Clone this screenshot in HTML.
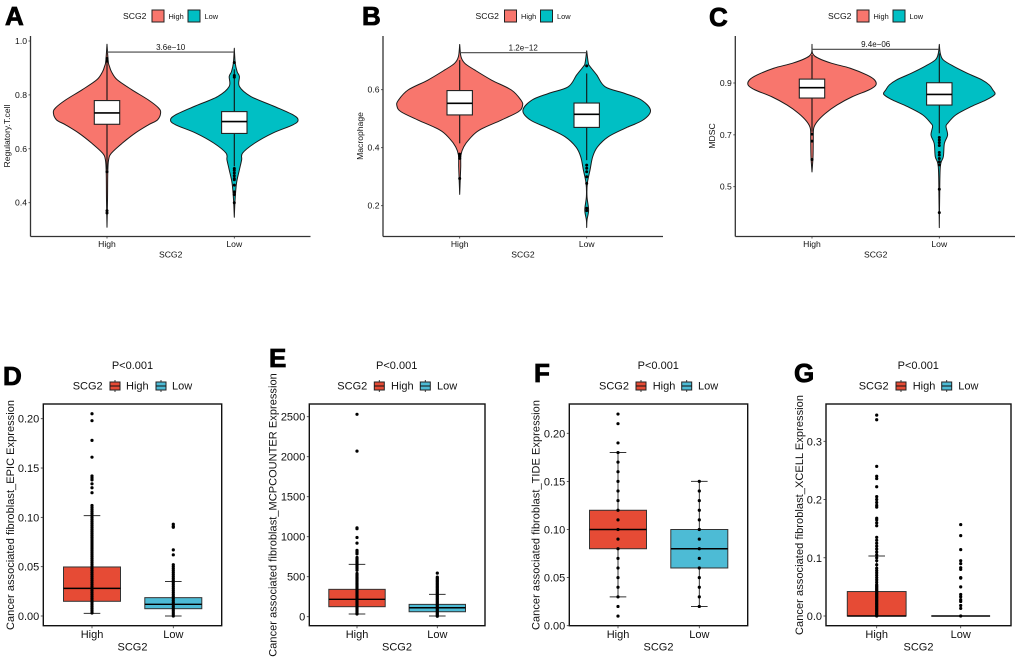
<!DOCTYPE html>
<html lang="en">
<head>
<meta charset="utf-8">
<title>SCG2 High vs Low immune infiltration panels</title>
<style>
html,body{margin:0;padding:0;background:#fff;width:1020px;height:661px;overflow:hidden}
svg{display:block;filter:blur(0.3px)}
text{font-family:"Liberation Sans",Arial,sans-serif;fill:#111}
.letter{font-size:26px;font-weight:bold;fill:#000;stroke:#000;stroke-width:.8px}
.s8{font-size:8.6px}
.leg{font-size:7.4px}
.s11{font-size:11px}
.key{stroke:#222;stroke-width:1}
</style>
</head>
<body>
<svg id="figure" width="1020" height="661" viewBox="0 0 1020 661" xmlns="http://www.w3.org/2000/svg">
<rect width="1020" height="661" fill="#fff"/>

<g>
<text class="letter" x="5" y="25">A</text>
<text class="letter" x="362" y="25">B</text>
<text class="letter" x="709" y="26">C</text>
<text class="letter" x="3" y="385">D</text>
<text class="letter" x="269" y="367">E</text>
<text class="letter" x="534" y="382">F</text>
<text class="letter" x="794" y="382">G</text>
</g>

<!-- Panel A static text and legend -->
<g>
<text class="s8" x="123" y="19">SCG2</text>
<rect class="key" x="152" y="10" width="12" height="12" fill="#F8766D"/>
<text class="leg" x="168.500" y="19">High</text>
<rect class="key" x="188" y="10" width="12" height="12" fill="#00BFC4"/>
<text class="leg" x="204.500" y="19">Low</text>
</g>
<text class="s8" transform="translate(10,136) rotate(-90)" text-anchor="middle">Regulatory.T.cell</text>
<text class="s8" x="170.700" y="257.500" text-anchor="middle">SCG2</text>

<!-- Panel B static text and legend -->
<g>
<text class="s8" x="475.500" y="19">SCG2</text>
<rect class="key" x="504.500" y="10" width="12" height="12" fill="#F8766D"/>
<text class="leg" x="521" y="19">High</text>
<rect class="key" x="540.500" y="10" width="12" height="12" fill="#00BFC4"/>
<text class="leg" x="557" y="19">Low</text>
</g>
<text class="s8" transform="translate(363,136) rotate(-90)" text-anchor="middle">Macrophage</text>
<text class="s8" x="523" y="257.500" text-anchor="middle">SCG2</text>

<!-- Panel C static text and legend -->
<g>
<text class="s8" x="828" y="19">SCG2</text>
<rect class="key" x="857" y="10" width="12" height="12" fill="#F8766D"/>
<text class="leg" x="873.500" y="19">High</text>
<rect class="key" x="893" y="10" width="12" height="12" fill="#00BFC4"/>
<text class="leg" x="909.500" y="19">Low</text>
</g>
<text class="s8" transform="translate(715,136) rotate(-90)" text-anchor="middle">MDSC</text>
<text class="s8" x="875.700" y="257.500" text-anchor="middle">SCG2</text>

<!-- Panel D static text and legend -->
<text class="s11" x="132.500" y="369" text-anchor="middle">P&lt;0.001</text>
<text class="s11" x="72.700" y="389.500">SCG2</text>
<text class="s11" x="126" y="389.500">High</text>
<text class="s11" x="172" y="389.500">Low</text>
<text class="s11" transform="translate(14,515) rotate(-90)" text-anchor="middle" textLength="230">Cancer associated fibroblast_EPIC Expression</text>
<text class="s11" x="132.500" y="650.700" text-anchor="middle">SCG2</text>

<!-- Panel E static text and legend -->
<text class="s11" x="396.700" y="369" text-anchor="middle">P&lt;0.001</text>
<text class="s11" x="337.300" y="389.500">SCG2</text>
<text class="s11" x="391" y="389.500">High</text>
<text class="s11" x="437" y="389.500">Low</text>
<text class="s11" transform="translate(276.500,515) rotate(-90)" text-anchor="middle" textLength="283.500">Cancer associated fibroblast_MCPCOUNTER Expression</text>
<text class="s11" x="397" y="650.700" text-anchor="middle">SCG2</text>

<!-- Panel F static text and legend -->
<text class="s11" x="658.300" y="369" text-anchor="middle">P&lt;0.001</text>
<text class="s11" x="599" y="389.500">SCG2</text>
<text class="s11" x="652.700" y="389.500">High</text>
<text class="s11" x="698" y="389.500">Low</text>
<text class="s11" transform="translate(539.500,515) rotate(-90)" text-anchor="middle" textLength="230">Cancer associated fibroblast_TIDE Expression</text>
<text class="s11" x="658.500" y="650.700" text-anchor="middle">SCG2</text>

<!-- Panel G static text and legend -->
<text class="s11" x="918.300" y="369" text-anchor="middle">P&lt;0.001</text>
<text class="s11" x="858.700" y="389.500">SCG2</text>
<text class="s11" x="912.700" y="389.500">High</text>
<text class="s11" x="958.300" y="389.500">Low</text>
<text class="s11" transform="translate(802.800,515) rotate(-90)" text-anchor="middle" textLength="240">Cancer associated fibroblast_XCELL Expression</text>
<text class="s11" x="918.500" y="650.700" text-anchor="middle">SCG2</text>
</svg>

<script>
/* ---------- shared ---------- */
const categories = ['High', 'Low'];

/* ---------- panel A : Regulatory.T.cell ---------- */
const aTickValues = [0.4, 0.6, 0.8, 1.0];
const aTickLabels = ['0.4', '0.6', '0.8', '1.0'];
const aHighLevels = [0.988, 0.923, 0.905, 0.886, 0.856, 0.819, 0.781, 0.751, 0.732, 0.707, 0.689, 0.658, 0.621, 0.584, 0.559, 0.510, 0.411, 0.309];
const aHighDensity = [0, 0.02, 0.04, 0.07, 0.16, 0.39, 0.65, 0.81, 0.84, 0.79, 0.65, 0.44, 0.24, 0.07, 0.025, 0.012, 0.008, 0];
const aLowLevels = [0.973, 0.917, 0.886, 0.868, 0.831, 0.794, 0.757, 0.726, 0.707, 0.689, 0.658, 0.621, 0.584, 0.559, 0.522, 0.473, 0.411, 0.346];
const aLowDensity = [0, 0.015, 0.045, 0.08, 0.08, 0.26, 0.63, 0.92, 1, 0.92, 0.60, 0.32, 0.13, 0.115, 0.08, 0.035, 0.012, 0];
const aHighBox = [0.691, 0.733, 0.779];
const aLowBox = [0.657, 0.701, 0.738];
const aHighWhiskers = [0.522, 0.932];
const aLowWhiskers = [0.535, 0.895];
const aHighOutliers = [0.935, 0.925, 0.515, 0.37, 0.362];
const aLowOutliers = [0.92, 0.872, 0.866, 0.527, 0.52, 0.51, 0.50, 0.49, 0.485, 0.465, 0.44, 0.43, 0.40];
const aBracketLevel = [0.959];
const aPValue = ['3.6e\u221210'];

/* ---------- panel B : Macrophage ---------- */
const bTickValues = [0.2, 0.4, 0.6];
const bTickLabels = ['0.2', '0.4', '0.6'];
const bHighLevels = [0.756, 0.714, 0.691, 0.668, 0.633, 0.599, 0.564, 0.545, 0.524, 0.495, 0.461, 0.432, 0.403, 0.375, 0.334, 0.300, 0.239];
const bHighDensity = [0, 0.02, 0.08, 0.235, 0.50, 0.81, 0.96, 0.985, 0.92, 0.65, 0.31, 0.16, 0.063, 0.02, 0.016, 0.01, 0];
const bLowLevels = [0.734, 0.691, 0.68, 0.651, 0.610, 0.587, 0.564, 0.528, 0.495, 0.467, 0.438, 0.403, 0.369, 0.323, 0.277, 0.231, 0.185, 0.151, 0.125];
const bLowDensity = [0, 0.026, 0.052, 0.157, 0.29, 0.60, 0.86, 1, 0.88, 0.60, 0.34, 0.17, 0.094, 0.052, 0.01, 0.005, 0.03, 0.005, 0];
const bHighBox = [0.513, 0.553, 0.597];
const bLowBox = [0.470, 0.515, 0.554];
const bHighWhiskers = [0.415, 0.702];
const bLowWhiskers = [0.357, 0.656];
const bHighOutliers = [0.378, 0.371, 0.363, 0.294];
const bLowOutliers = [0.682, 0.340, 0.329, 0.317, 0.300, 0.277, 0.191, 0.183];
const bBracketLevel = [0.7276];
const bPValue = ['1.2e\u221212'];

/* ---------- panel C : MDSC ---------- */
const cTickValues = [0.5, 0.7, 0.9];
const cTickLabels = ['0.5', '0.7', '0.9'];
const cHighLevels = [1.049, 1.014, 0.995, 0.976, 0.957, 0.931, 0.912, 0.892, 0.873, 0.847, 0.815, 0.783, 0.751, 0.725, 0.680, 0.616, 0.557];
const cHighDensity = [0, 0.01, 0.105, 0.31, 0.60, 0.86, 0.98, 1, 0.89, 0.63, 0.39, 0.21, 0.08, 0.026, 0.02, 0.016, 0];
const cLowLevels = [1.049, 1.014, 0.989, 0.963, 0.937, 0.912, 0.892, 0.873, 0.856, 0.834, 0.809, 0.777, 0.744, 0.732, 0.699, 0.667, 0.616, 0.577, 0.449, 0.342];
const cLowDensity = [0, 0.016, 0.063, 0.235, 0.445, 0.67, 0.785, 0.84, 0.87, 0.73, 0.50, 0.26, 0.13, 0.105, 0.13, 0.08, 0.063, 0.016, 0.005, 0];
const cHighBox = [0.842, 0.882, 0.915];
const cLowBox = [0.815, 0.856, 0.901];
const cHighWhiskers = [0.712, 1.008];
const cLowWhiskers = [0.706, 1.014];
const cHighOutliers = [0.703, 0.676, 0.605];
const cLowOutliers = [0.690, 0.680, 0.670, 0.659, 0.632, 0.622, 0.609, 0.596, 0.584, 0.49, 0.40];
const cBracketLevel = [1.03];
const cPValue = ['9.4e\u221206'];

/* ---------- panel D : EPIC ---------- */
const dTickValues = [0, 0.05, 0.10, 0.15, 0.20];
const dTickLabels = ['0.00', '0.05', '0.10', '0.15', '0.20'];
const dHighBox = [0.0149, 0.028, 0.0497];
const dLowBox = [0.0074, 0.0118, 0.0186];
const dHighWhiskers = [0.0027, 0.1017];
const dLowWhiskers = [0, 0.035];
const dHighPoints = [0.205, 0.198, 0.178, 0.161, 0.142, 0.14, 0.138, 0.134, 0.13, 0.125, 0.112, 0.11, 0.108, 0.106, 0.104, 0.102, 0.1, 0.098, 0.096, 0.094, 0.092, 0.09, 0.088, 0.086, 0.084, 0.082, 0.08, 0.078, 0.076, 0.074, 0.072, 0.07, 0.068, 0.066, 0.064, 0.062, 0.06, 0.058, 0.056, 0.054, 0.052, 0.05, 0.048, 0.046, 0.044, 0.042, 0.04, 0.038, 0.036, 0.034, 0.032, 0.03, 0.028, 0.026, 0.024, 0.022, 0.02, 0.018, 0.016, 0.014, 0.012, 0.01, 0.008, 0.006, 0.004, 0.003];
const dLowPoints = [0.093, 0.091, 0.09, 0.067, 0.062, 0.052, 0.05, 0.048, 0.046, 0.044, 0.042, 0.04, 0.038, 0.036, 0.034, 0.032, 0.03, 0.028, 0.026, 0.024, 0.022, 0.02, 0.018, 0.016, 0.014, 0.012, 0.01, 0.008, 0.006, 0.004, 0.002, 0];

/* ---------- panel E : MCPCOUNTER ---------- */
const eTickValues = [0, 500, 1000, 1500, 2000, 2500];
const eTickLabels = ['0', '500', '1000', '1500', '2000', '2500'];
const eHighBox = [125, 217, 342];
const eLowBox = [62, 112, 154];
const eHighWhiskers = [33, 654];
const eLowWhiskers = [8, 279];
const eHighPoints = [2530, 2070, 1110, 1100, 990, 920, 830, 815, 800, 785, 740, 725, 710, 695, 680, 665, 650, 635, 620, 600, 580, 540, 525, 510, 495, 480, 465, 450, 435, 420, 405, 390, 375, 360, 345, 330, 315, 300, 285, 270, 255, 240, 225, 210, 195, 180, 165, 150, 135, 120, 105, 90, 75, 60, 45, 33];
const eLowPoints = [545, 495, 480, 465, 450, 435, 420, 405, 390, 375, 360, 345, 330, 315, 300, 285, 270, 255, 240, 225, 210, 195, 180, 165, 150, 135, 120, 105, 90, 75, 60, 45, 30, 15, 5];

/* ---------- panel F : TIDE ---------- */
const fTickValues = [0, 0.05, 0.10, 0.15, 0.20];
const fTickLabels = ['0.00', '0.05', '0.10', '0.15', '0.20'];
const fHighBox = [0.08, 0.10, 0.12];
const fLowBox = [0.06, 0.08, 0.10];
const fHighWhiskers = [0.03, 0.18];
const fLowWhiskers = [0.02, 0.15];
const fHighPoints = [0.22, 0.21, 0.19, 0.18, 0.17, 0.16, 0.15, 0.14, 0.13, 0.12, 0.11, 0.10, 0.09, 0.08, 0.07, 0.06, 0.05, 0.04, 0.03, 0.02, 0.01];
const fLowPoints = [0.15, 0.14, 0.13, 0.12, 0.11, 0.10, 0.09, 0.08, 0.07, 0.06, 0.05, 0.04, 0.03, 0.02];

/* ---------- panel G : XCELL ---------- */
const gTickValues = [0, 0.1, 0.2, 0.3];
const gTickLabels = ['0.0', '0.1', '0.2', '0.3'];
const gHighBox = [0, 0, 0.042];
const gLowBox = [0, 0, 0];
const gHighWhiskers = [0, 0.103];
const gLowWhiskers = [0, 0];
const gHighPoints = [0.345, 0.337, 0.257, 0.24, 0.236, 0.222, 0.205, 0.2, 0.195, 0.19, 0.187, 0.168, 0.165, 0.16, 0.155, 0.135, 0.13, 0.125, 0.12, 0.115, 0.11, 0.105, 0.1, 0.095, 0.088, 0.082, 0.078, 0.074, 0.07, 0.066, 0.062, 0.058, 0.054, 0.052, 0.05, 0.048, 0.046, 0.044, 0.042, 0.04, 0.038, 0.036, 0.034, 0.032, 0.03, 0.028, 0.026, 0.024, 0.022, 0.02, 0.018, 0.016, 0.014, 0.012, 0.01, 0.008, 0.006, 0.004, 0.002, 0];
const gLowPoints = [0.157, 0.138, 0.114, 0.095, 0.09, 0.083, 0.08, 0.066, 0.065, 0.05, 0.037, 0.033, 0.028, 0.025, 0.018, 0.013, 0];

/* ---------- helpers ---------- */
const SVGNS = 'http://www.w3.org/2000/svg';
const figure = document.getElementById('figure');

function mk(parent, tag, attrs, name) {
  const el = document.createElementNS(SVGNS, tag);
  for (const k in attrs) el.setAttribute(k, attrs[k]);
  
  
  parent.appendChild(el);
  return el;
}
function label(parent, x, y, str, cls, anchor, name) {
  const t = mk(parent, 'text', {x: x, y: y, class: cls, 'text-anchor': anchor}, name);
  t.textContent = str;
  return t;
}
function linearScale(v0, p0, v1, p1) {
  return function (v) { return p0 + (v - v0) * (p1 - p0) / (v1 - v0); };
}
function splinePath(pts) {
  let d = 'M' + pts[0][0].toFixed(2) + ' ' + pts[0][1].toFixed(2);
  for (let i = 0; i < pts.length - 1; i++) {
    const p0 = pts[Math.max(i - 1, 0)], p1 = pts[i], p2 = pts[i + 1], p3 = pts[Math.min(i + 2, pts.length - 1)];
    const c1x = p1[0] + (p2[0] - p0[0]) / 6, c1y = p1[1] + (p2[1] - p0[1]) / 6;
    const c2x = p2[0] - (p3[0] - p1[0]) / 6, c2y = p2[1] - (p3[1] - p1[1]) / 6;
    d += 'C' + c1x.toFixed(2) + ' ' + c1y.toFixed(2) + ' ' + c2x.toFixed(2) + ' ' + c2y.toFixed(2) + ' ' + p2[0].toFixed(2) + ' ' + p2[1].toFixed(2);
  }
  return d;
}

/* ---------- violin panel ---------- */
function drawViolin(g, cx, y, groupName, fill, levels, density, box, whiskers, outliers) {
  const maxHalfWidth = 63.8;
  const boxHalf = 12.7;
  const right = levels.map(function (v, i) { return [cx + density[i] * maxHalfWidth, y(v)]; });
  const left = levels.map(function (v, i) { return [cx - density[i] * maxHalfWidth, y(v)]; }).reverse();
  mk(g, 'path', {d: splinePath(right) + ' ' + splinePath(left).replace(/^M[^C]*/, '') + 'Z', fill: fill, stroke: '#1a1a1a', 'stroke-width': 1, 'stroke-linejoin': 'round'}, 'violin-' + groupName);
  mk(g, 'line', {x1: cx, x2: cx, y1: y(whiskers[0]), y2: y(whiskers[1]), stroke: '#111', 'stroke-width': 1.1}, 'whisker-' + groupName);
  mk(g, 'rect', {x: cx - boxHalf, width: boxHalf * 2, y: y(box[2]), height: y(box[0]) - y(box[2]), fill: '#fff', stroke: '#222', 'stroke-width': 1.1}, 'box-' + groupName);
  mk(g, 'line', {x1: cx - boxHalf, x2: cx + boxHalf, y1: y(box[1]), y2: y(box[1]), stroke: '#000', 'stroke-width': 1.6}, 'median-' + groupName);
  outliers.forEach(function (v) {
    mk(g, 'circle', {cx: cx, cy: y(v), r: 1.5, fill: '#000'}, 'outlier-' + groupName);
  });
}
function drawViolinPanel(p) {
  const g = mk(figure, 'g', {}, 'violin-panel-' + p.id);
  const y = linearScale(p.v0, p.p0, p.v1, p.p1);
  const x = [p.xHigh, p.xLow];
  drawViolin(g, x[0], y, p.id + '-high', '#F8766D', p.highLevels, p.highDensity, p.highBox, p.highWhiskers, p.highOutliers);
  drawViolin(g, x[1], y, p.id + '-low', '#00BFC4', p.lowLevels, p.lowDensity, p.lowBox, p.lowWhiskers, p.lowOutliers);
  const by = y(p.bracket[0]);
  mk(g, 'line', {x1: x[0], x2: x[1], y1: by, y2: by, stroke: '#444', 'stroke-width': 1.1}, 'significance-bracket-' + p.id);
  label(g, (x[0] + x[1]) / 2, by - 2.2, p.pValue[0], 's8', 'middle', 'p-value-' + p.id).style.fontSize = '8px';
  mk(g, 'line', {x1: p.left, x2: p.left, y1: p.top, y2: p.bottom, stroke: '#333', 'stroke-width': 1.3}, 'y-axis-line-' + p.id);
  mk(g, 'line', {x1: p.left, x2: p.right, y1: p.bottom, y2: p.bottom, stroke: '#333', 'stroke-width': 1.3}, 'x-axis-line-' + p.id);
  p.tickValues.forEach(function (v, i) {
    mk(g, 'line', {x1: p.left - 2, x2: p.left, y1: y(v), y2: y(v), stroke: '#333', 'stroke-width': 0.8}, 'y-tick-' + p.id);
    label(g, p.left - 3.5, y(v) + 3, p.tickLabels[i], 's8', 'end', 'y-tick-label-' + p.id);
  });
  categories.forEach(function (c, i) {
    mk(g, 'line', {x1: x[i], x2: x[i], y1: p.bottom, y2: p.bottom + 2, stroke: '#333', 'stroke-width': 0.8}, 'x-tick-' + p.id);
    label(g, x[i], 247, c, 's8', 'middle', 'x-tick-label-' + p.id);
  });
}

/* ---------- box panel ---------- */
function drawBox(g, cx, y, groupName, fill, box, whiskers, points, halfWidth) {
  const capHalf = 8.3;
  mk(g, 'line', {x1: cx, x2: cx, y1: y(whiskers[0]), y2: y(whiskers[1]), stroke: '#222', 'stroke-width': 0.9}, 'whisker-' + groupName);
  mk(g, 'line', {x1: cx - capHalf, x2: cx + capHalf, y1: y(whiskers[1]), y2: y(whiskers[1]), stroke: '#333', 'stroke-width': 1}, 'whisker-cap-top-' + groupName);
  mk(g, 'line', {x1: cx - capHalf, x2: cx + capHalf, y1: y(whiskers[0]), y2: y(whiskers[0]), stroke: '#333', 'stroke-width': 1}, 'whisker-cap-bottom-' + groupName);
  mk(g, 'rect', {x: cx - halfWidth, width: halfWidth * 2, y: y(box[2]), height: Math.max(y(box[0]) - y(box[2]), 0), fill: fill, stroke: '#333', 'stroke-width': 1}, 'box-' + groupName);
  mk(g, 'line', {x1: cx - halfWidth, x2: cx + halfWidth, y1: y(box[1]), y2: y(box[1]), stroke: '#000', 'stroke-width': 1.4}, 'median-' + groupName);
  points.forEach(function (v) {
    mk(g, 'circle', {cx: cx, cy: y(v), r: 1.6, fill: '#000'}, 'point-' + groupName);
  });
}
function drawLegendKey(g, x, fill, name) {
  mk(g, 'line', {x1: x + 5, x2: x + 5, y1: 380, y2: 392, stroke: '#222', 'stroke-width': 0.9}, name + '-whisker');
  mk(g, 'rect', {x: x, y: 382, width: 10, height: 8, fill: fill, stroke: '#222', 'stroke-width': 1}, name);
  mk(g, 'line', {x1: x, x2: x + 10, y1: 386, y2: 386, stroke: '#111', 'stroke-width': 1}, name + '-median');
}
function drawBoxPanel(p) {
  const g = mk(figure, 'g', {}, 'box-panel-' + p.id);
  const y = linearScale(p.v0, p.p0, p.v1, p.p1);
  const x = [p.xHigh, p.xLow];
  drawLegendKey(g, p.key1, '#E64B35', 'legend-key-high-' + p.id);
  drawLegendKey(g, p.key2, '#4DBBD5', 'legend-key-low-' + p.id);
  mk(g, 'rect', {x: p.left, y: 404, width: p.right - p.left, height: 221.7, fill: 'none', stroke: '#111', 'stroke-width': 1.4}, 'plot-frame-' + p.id);
  drawBox(g, x[0], y, p.id + '-high', '#E64B35', p.highBox, p.highWhiskers, p.highPoints, p.boxHalf);
  drawBox(g, x[1], y, p.id + '-low', '#4DBBD5', p.lowBox, p.lowWhiskers, p.lowPoints, p.boxHalf);
  p.tickValues.forEach(function (v, i) {
    mk(g, 'line', {x1: p.left - 2.5, x2: p.left, y1: y(v), y2: y(v), stroke: '#333', 'stroke-width': 0.8}, 'y-tick-' + p.id);
    label(g, p.left - 4, y(v) + 4, p.tickLabels[i], 's11', 'end', 'y-tick-label-' + p.id);
  });
  categories.forEach(function (c, i) {
    mk(g, 'line', {x1: x[i], x2: x[i], y1: 625.7, y2: 628.2, stroke: '#333', 'stroke-width': 0.8}, 'x-tick-' + p.id);
    label(g, x[i], 638, c, 's11', 'middle', 'x-tick-label-' + p.id);
  });
}

/* ---------- draw ---------- */
drawViolinPanel({id: 'a', left: 30.5, right: 310.5, top: 36, bottom: 236.5, xHigh: 107, xLow: 234.3, v0: 1.0, p0: 41, v1: 0.4, p1: 202.7,
  tickValues: aTickValues, tickLabels: aTickLabels, highLevels: aHighLevels, highDensity: aHighDensity, lowLevels: aLowLevels, lowDensity: aLowDensity,
  highBox: aHighBox, lowBox: aLowBox, highWhiskers: aHighWhiskers, lowWhiskers: aLowWhiskers, highOutliers: aHighOutliers, lowOutliers: aLowOutliers, bracket: aBracketLevel, pValue: aPValue});
drawViolinPanel({id: 'b', left: 383, right: 663, top: 36, bottom: 236.5, xHigh: 459.7, xLow: 586.7, v0: 0.6, p0: 89.7, v1: 0.2, p1: 205.7,
  tickValues: bTickValues, tickLabels: bTickLabels, highLevels: bHighLevels, highDensity: bHighDensity, lowLevels: bLowLevels, lowDensity: bLowDensity,
  highBox: bHighBox, lowBox: bLowBox, highWhiskers: bHighWhiskers, lowWhiskers: bLowWhiskers, highOutliers: bHighOutliers, lowOutliers: bLowOutliers, bracket: bBracketLevel, pValue: bPValue});
drawViolinPanel({id: 'c', left: 735.3, right: 1015, top: 36, bottom: 236.5, xHigh: 812, xLow: 939.3, v0: 0.9, p0: 83, v1: 0.5, p1: 186.7,
  tickValues: cTickValues, tickLabels: cTickLabels, highLevels: cHighLevels, highDensity: cHighDensity, lowLevels: cLowLevels, lowDensity: cLowDensity,
  highBox: cHighBox, lowBox: cLowBox, highWhiskers: cHighWhiskers, lowWhiskers: cLowWhiskers, highOutliers: cHighOutliers, lowOutliers: cLowOutliers, bracket: cBracketLevel, pValue: cPValue});

drawBoxPanel({id: 'd', left: 43.3, right: 221.7, xHigh: 92, xLow: 173.3, boxHalf: 28.5, key1: 110, key2: 156, v0: 0, p0: 616, v1: 0.2, p1: 418.7,
  tickValues: dTickValues, tickLabels: dTickLabels, highBox: dHighBox, lowBox: dLowBox, highWhiskers: dHighWhiskers, lowWhiskers: dLowWhiskers, highPoints: dHighPoints, lowPoints: dLowPoints});
drawBoxPanel({id: 'e', left: 309.3, right: 485, xHigh: 357, xLow: 437.3, boxHalf: 28.2, key1: 374.3, key2: 420.3, v0: 0, p0: 616.7, v1: 2500, p1: 416.7,
  tickValues: eTickValues, tickLabels: eTickLabels, highBox: eHighBox, lowBox: eLowBox, highWhiskers: eHighWhiskers, lowWhiskers: eLowWhiskers, highPoints: eHighPoints, lowPoints: eLowPoints});
drawBoxPanel({id: 'f', left: 569.3, right: 747.7, xHigh: 618, xLow: 699.3, boxHalf: 28.5, key1: 636, key2: 681.7, v0: 0, p0: 625.7, v1: 0.2, p1: 433.3,
  tickValues: fTickValues, tickLabels: fTickLabels, highBox: fHighBox, lowBox: fLowBox, highWhiskers: fHighWhiskers, lowWhiskers: fLowWhiskers, highPoints: fHighPoints, lowPoints: fLowPoints});
drawBoxPanel({id: 'g', left: 826, right: 1011, xHigh: 876.7, xLow: 960.7, boxHalf: 29.4, key1: 896, key2: 941.7, v0: 0, p0: 616, v1: 0.3, p1: 441.3,
  tickValues: gTickValues, tickLabels: gTickLabels, highBox: gHighBox, lowBox: gLowBox, highWhiskers: gHighWhiskers, lowWhiskers: gLowWhiskers, highPoints: gHighPoints, lowPoints: gLowPoints});
</script>
</body>
</html>
